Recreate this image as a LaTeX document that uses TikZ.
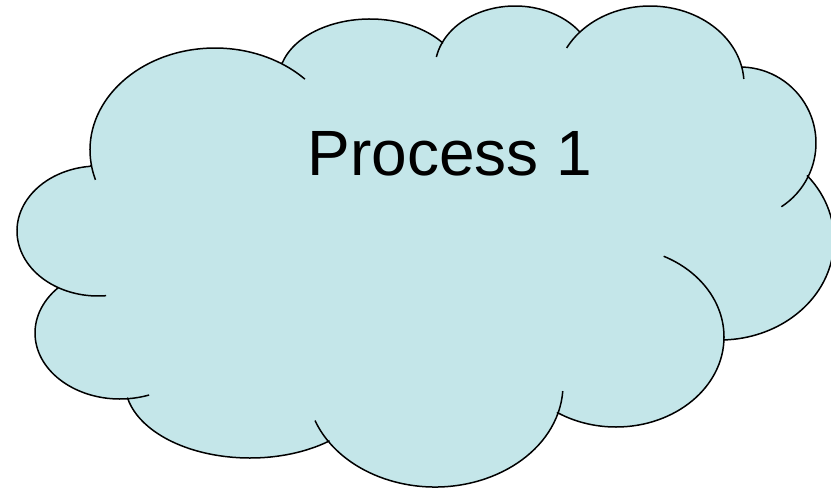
\documentclass[tikz,border=0pt]{standalone}
\usepackage{fontspec}
\setmainfont{Liberation Sans}
\usepackage{xcolor}
\usepackage{tikz}
\usetikzlibrary{positioning}
\definecolor{cloudfill}{RGB}{196, 230, 233}

\begin{document}
\begin{tikzpicture}[x=1pt, y=-1pt, line width=1.5pt,
    cloud/.style={fill=cloudfill, draw=black, line join=round},
    crease/.style={draw=black, line cap=butt}]
    \useasboundingbox (0,0) rectangle (831,488);
    \clip (0,0) rectangle (831,488);

    % Cloud outline: one elliptical arc per lobe, clockwise from the upper left
    \filldraw[cloud]
        ([shift={(215,150)}]171.5:125 and 102) arc[start angle=171.5, end angle=302.2, x radius=125, y radius=102]
        -- ([shift={(370,79)}]196.5:91 and 60) arc[start angle=196.5, end angle=323, x radius=91, y radius=60]
        -- ([shift={(515,68.6)}]204.1:80 and 62.6) arc[start angle=204.1, end angle=324.2, x radius=80, y radius=62.6]
        -- ([shift={(650,84)}]221.8:94 and 78) arc[start angle=221.8, end angle=347.4, x radius=94, y radius=78]
        -- ([shift={(740,143)}]272:76 and 76) arc[start angle=272, end angle=386.6, x radius=76, y radius=76]
        -- ([shift={(720,240)}]-40:114 and 100) arc[start angle=-40, end angle=88, x radius=114, y radius=100]
        -- ([shift={(616,337)}]0:108 and 90) arc[start angle=0, end angle=122.9, x radius=108, y radius=90]
        -- ([shift={(435,385)}]16:128 and 102) arc[start angle=16, end angle=146.5, x radius=128, y radius=102]
        -- ([shift={(250,383)}]50.7:125 and 75) arc[start angle=50.7, end angle=168.4, x radius=125, y radius=75]
        -- ([shift={(120,333)}]84.6:85 and 66) arc[start angle=84.6, end angle=223.1, x radius=85, y radius=66]
        -- ([shift={(98,231)}]119.4:81 and 65) arc[start angle=119.4, end angle=264.3, x radius=81, y radius=65]
        -- cycle;

    % Inner creases where lobes overlap
    \foreach \cx/\cy/\rx/\ry/\a/\b in {
        215/150/125/102/163/171.5, 215/150/125/102/302.2/316,
        515/68.6/80/62.6/190.7/204.1,
        650/84/94/78/207.5/221.8, 650/84/94/78/347.4/356.3,
        740/143/76/76/26.6/57,
        616/337/108/90/-63.8/0,
        435/385/128/102/3.4/16, 435/385/128/102/146.5/159.6,
        120/333/85/66/70/84.6,
        98/231/81/65/84.3/119.4}
        \draw[crease] ({\cx+\rx*cos(\a)},{\cy+\ry*sin(\a)})
            arc[start angle=\a, end angle=\b, x radius=\rx, y radius=\ry];

    % Label
    \node[font=\fontsize{64}{70}\selectfont, anchor=base, inner sep=0pt] (label) at (450,175) {Process 1};
\end{tikzpicture}
\end{document}
